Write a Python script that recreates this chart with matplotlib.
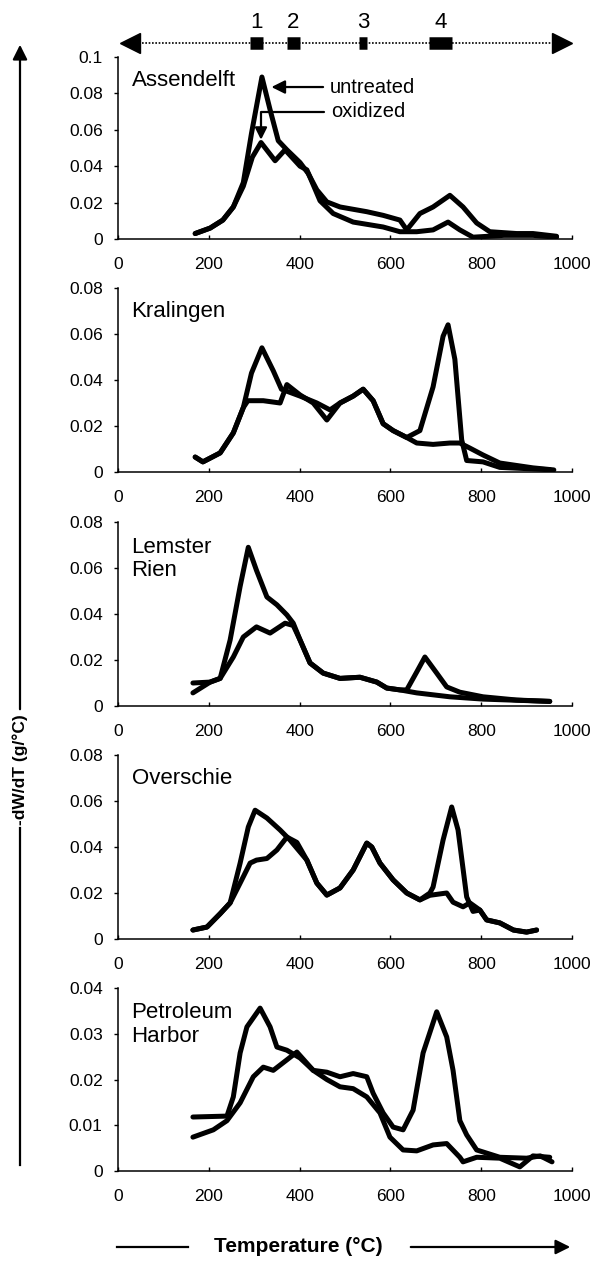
import matplotlib
matplotlib.use("Agg")
import matplotlib.pyplot as plt
from matplotlib.lines import Line2D
from matplotlib.patches import FancyArrowPatch

plt.rcParams['font.family'] = ['Liberation Sans', 'DejaVu Sans']

# ---- data (temperature in C, -dW/dT in g/C) ----
names = ['Assendelft', 'Kralingen', 'Lemster\nRien', 'Overschie', 'Petroleum\nHarbor']

t_untr_1 = [170, 203, 231, 254, 276, 294, 317, 335, 353, 372, 401, 419, 438, 460, 489, 548, 584, 621, 636,
            665, 694, 731, 760, 790, 819, 878, 914, 966]
y_untr_1 = [0.003, 0.006, 0.0104, 0.0176, 0.031, 0.058, 0.089, 0.071, 0.054, 0.049, 0.042, 0.036, 0.027,
            0.0204, 0.0176, 0.015, 0.013, 0.0104, 0.005, 0.014, 0.0176, 0.024, 0.0176, 0.0088, 0.004, 0.003,
            0.003, 0.0015]
t_oxid_1 = [170, 203, 231, 254, 276, 296, 315, 346, 368, 401, 416, 445, 474, 518, 584, 621, 658, 694, 727,
            753, 782, 850, 914, 966]
y_oxid_1 = [0.003, 0.006, 0.0104, 0.0176, 0.029, 0.045, 0.053, 0.043, 0.049, 0.040, 0.038, 0.021, 0.014,
            0.0093, 0.0066, 0.004, 0.004, 0.005, 0.0093, 0.005, 0.001, 0.002, 0.002, 0.001]

t_untr_2 = [170, 187, 225, 254, 276, 294, 317, 342, 360, 401, 438, 467, 489, 518, 540, 562, 584, 606, 636,
            665, 694, 716, 727, 742, 757, 768, 804, 841, 951]
y_untr_2 = [0.0065, 0.0044, 0.0083, 0.017, 0.028, 0.043, 0.054, 0.044, 0.036, 0.033, 0.030, 0.027, 0.030,
            0.033, 0.036, 0.031, 0.021, 0.018, 0.015, 0.018, 0.037, 0.059, 0.064, 0.049, 0.014, 0.005,
            0.0044, 0.002, 0.001]
t_oxid_2 = [170, 187, 225, 254, 276, 286, 320, 357, 372, 401, 430, 460, 489, 518, 540, 562, 584, 606, 636,
            658, 694, 731, 753, 775, 804, 841, 914, 960]
y_oxid_2 = [0.0065, 0.0044, 0.0083, 0.017, 0.028, 0.031, 0.031, 0.030, 0.038, 0.0335, 0.030, 0.0226, 0.030,
            0.033, 0.036, 0.031, 0.021, 0.018, 0.015, 0.0126, 0.012, 0.0126, 0.0126, 0.0104, 0.0074, 0.0039,
            0.0018, 0.0009]

t_untr_3 = [165, 203, 225, 247, 269, 287, 305, 328, 350, 372, 386, 401, 423, 452, 489, 533, 570, 592, 621,
            636, 658, 676, 702, 724, 753, 804, 878, 951]
y_untr_3 = [0.0057, 0.0104, 0.012, 0.0287, 0.052, 0.069, 0.059, 0.0474, 0.044, 0.0396, 0.036, 0.0287,
            0.0187, 0.0143, 0.012, 0.0125, 0.0104, 0.0078, 0.007, 0.007, 0.0148, 0.0213, 0.0143, 0.0083,
            0.006, 0.004, 0.0026, 0.002]
t_oxid_3 = [165, 203, 225, 254, 276, 305, 335, 368, 386, 401, 423, 452, 489, 533, 570, 592, 621, 658, 731,
            804, 951]
y_oxid_3 = [0.010, 0.0104, 0.012, 0.0213, 0.030, 0.0344, 0.0317, 0.036, 0.035, 0.0287, 0.0187, 0.0143,
            0.012, 0.0125, 0.0104, 0.0078, 0.007, 0.0057, 0.004, 0.003, 0.002]

t_untr_4 = [165, 196, 225, 247, 269, 287, 302, 328, 357, 379, 416, 438, 460, 489, 518, 548, 559, 577, 606,
            636, 665, 687, 694, 716, 735, 749, 768, 782, 797, 812, 841, 871, 900, 922]
y_untr_4 = [0.0039, 0.0052, 0.011, 0.0157, 0.033, 0.0487, 0.056, 0.0526, 0.0474, 0.043, 0.0343, 0.0243,
            0.0191, 0.0222, 0.030, 0.0417, 0.040, 0.033, 0.0257, 0.020, 0.017, 0.020, 0.0226, 0.043, 0.0574,
            0.0474, 0.0183, 0.012, 0.0126, 0.0083, 0.007, 0.0039, 0.003, 0.0039]
t_oxid_4 = [165, 196, 225, 247, 269, 291, 305, 328, 350, 372, 394, 416, 438, 460, 489, 518, 548, 559, 577,
            606, 636, 665, 687, 724, 738, 760, 775, 797, 812, 841, 871, 900, 922]
y_oxid_4 = [0.0039, 0.0052, 0.011, 0.0157, 0.0243, 0.033, 0.0343, 0.035, 0.0387, 0.0443, 0.042, 0.0343,
            0.0243, 0.0191, 0.0222, 0.030, 0.0417, 0.040, 0.033, 0.0257, 0.020, 0.017, 0.019, 0.020, 0.016,
            0.014, 0.0157, 0.0126, 0.0083, 0.007, 0.0039, 0.003, 0.0039]

t_untr_5 = [165, 240, 254, 269, 284, 313, 335, 350, 372, 401, 430, 460, 489, 518, 548, 562, 584, 606, 628,
            650, 672, 702, 724, 738, 753, 768, 790, 841, 900, 930, 956]
y_untr_5 = [0.0118, 0.012, 0.0162, 0.0258, 0.0315, 0.0356, 0.0315, 0.0271, 0.0264, 0.0247, 0.022, 0.0216,
            0.0206, 0.0213, 0.0206, 0.017, 0.0127, 0.0096, 0.009, 0.0133, 0.0258, 0.0348, 0.0293, 0.022,
            0.011, 0.0079, 0.0046, 0.003, 0.0028, 0.0033, 0.002]
t_oxid_5 = [165, 210, 240, 269, 298, 320, 342, 372, 394, 430, 460, 489, 518, 548, 577, 599, 628, 658, 694,
            724, 753, 760, 790, 841, 885, 914, 951]
y_oxid_5 = [0.0074, 0.009, 0.011, 0.0149, 0.0206, 0.0227, 0.022, 0.0243, 0.026, 0.022, 0.020, 0.0184,
            0.018, 0.0162, 0.0127, 0.0074, 0.0046, 0.0044, 0.0057, 0.006, 0.003, 0.002, 0.003, 0.0028,
            0.0009, 0.0033, 0.003]

untreated = [(t_untr_1, y_untr_1), (t_untr_2, y_untr_2), (t_untr_3, y_untr_3),
             (t_untr_4, y_untr_4), (t_untr_5, y_untr_5)]
oxidized = [(t_oxid_1, y_oxid_1), (t_oxid_2, y_oxid_2), (t_oxid_3, y_oxid_3),
            (t_oxid_4, y_oxid_4), (t_oxid_5, y_oxid_5)]

y_max = [0.1, 0.08, 0.08, 0.08, 0.04]
y_ticks = [[0, 0.02, 0.04, 0.06, 0.08, 0.1],
           [0, 0.02, 0.04, 0.06, 0.08],
           [0, 0.02, 0.04, 0.06, 0.08],
           [0, 0.02, 0.04, 0.06, 0.08],
           [0, 0.01, 0.02, 0.03, 0.04]]
y_ticklabels = [['0', '0.02', '0.04', '0.06', '0.08', '0.1'],
                ['0', '0.02', '0.04', '0.06', '0.08'],
                ['0', '0.02', '0.04', '0.06', '0.08'],
                ['0', '0.02', '0.04', '0.06', '0.08'],
                ['0', '0.01', '0.02', '0.03', '0.04']]
x_ticks = [0, 200, 400, 600, 800, 1000]

# temperature regions marked above the first panel
stage_labels = ['1', '2', '3', '4']
stage_start = [291, 372, 531, 685]
stage_end = [320, 400, 549, 735]

# ---- layout in pixels (figure is 595 x 1262) ----
W, H = 595, 1262
left_px, right_px = 118, 572
panel_px = [(57, 239), (288, 472), (522, 706), (755, 939), (988, 1171)]


def fx(px):
    return px / W


def fy(py):
    return 1 - py / H


fig = plt.figure(figsize=(W / 100, H / 100), dpi=100)

axes = []
for i, (top, bot) in enumerate(panel_px):
    ax = fig.add_axes([fx(left_px), fy(bot), (right_px - left_px) / W, (bot - top) / H])
    tu, yu = untreated[i]
    to, yo = oxidized[i]
    ax.plot(to, yo, color='black', lw=3.6, solid_joinstyle='round', solid_capstyle='round')
    ax.plot(tu, yu, color='black', lw=3.6, solid_joinstyle='round', solid_capstyle='round')
    ax.set_xlim(0, 1000)
    ax.set_ylim(0, y_max[i])
    ax.set_xticks(x_ticks)
    ax.set_xticklabels([str(v) for v in x_ticks])
    ax.set_yticks(y_ticks[i])
    ax.set_yticklabels(y_ticklabels[i])
    for s in ['top', 'right']:
        ax.spines[s].set_visible(False)
    for s in ['left', 'bottom']:
        ax.spines[s].set_linewidth(1.1)
    ax.tick_params(axis='x', direction='in', length=3, width=1, pad=13, labelsize=12.5)
    ax.tick_params(axis='y', direction='out', length=3, width=1, pad=8, labelsize=12.5)
    ax.text(0.03, 0.87 if '\n' not in names[i] else 0.80, names[i], transform=ax.transAxes,
            fontsize=16, va='center', ha='left', linespacing=1.15)
    axes.append(ax)

# annotation arrows in the first panel
ax1 = axes[0]
ax1.annotate('untreated', xy=(338, 0.0835), xytext=(467, 0.0835), fontsize=14.5, va='center',
             arrowprops=dict(arrowstyle='-|>', color='black', lw=1.6, mutation_scale=20, shrinkA=3, shrinkB=0))
ax1.annotate('oxidized', xy=(315, 0.0545), xytext=(469, 0.0698), fontsize=14.5, va='center',
             arrowprops=dict(arrowstyle='-|>', color='black', lw=1.6, mutation_scale=18, shrinkA=3, shrinkB=0,
                             connectionstyle='angle,angleA=0,angleB=90,rad=0'))

# stage bar above the panels
axt = fig.add_axes([fx(left_px), fy(55), (right_px - left_px) / W, 50 / H])
axt.set_xlim(0, 1000)
axt.set_ylim(0, 1)
axt.axis('off')
axt.plot([30, 975], [0.24, 0.24], color='black', lw=1.2, ls=(0, (1, 1)))
axt.plot([27], [0.24], marker='<', color='black', ms=14, clip_on=False)
axt.plot([978], [0.24], marker='>', color='black', ms=14, clip_on=False)
for lab, a, b in zip(stage_labels, stage_start, stage_end):
    axt.plot([a, b], [0.24, 0.24], color='black', lw=9, solid_capstyle='butt')
    axt.text((a + b) / 2, 0.64, lab, ha='center', va='center', fontsize=16)

# y axis label with arrow
fig.text(fx(20), fy(770), '-dW/dT (g/°C)', rotation=90, ha='center', va='center',
         fontsize=12.5, fontweight='bold')
fig.add_artist(FancyArrowPatch((fx(20), fy(712)), (fx(20), fy(42)), transform=fig.transFigure,
                               arrowstyle='-|>', mutation_scale=22, color='black', lw=1.6))
fig.add_artist(Line2D([fx(20), fx(20)], [fy(828), fy(1165)], transform=fig.transFigure,
                      color='black', lw=1.6))

# x axis label with arrow
fig.text(fx(298), fy(1247), 'Temperature (°C)', ha='center', va='center',
         fontsize=15, fontweight='bold')
fig.add_artist(Line2D([fx(117), fx(188)], [fy(1247), fy(1247)], transform=fig.transFigure,
                      color='black', lw=1.6))
fig.add_artist(FancyArrowPatch((fx(408), fy(1247)), (fx(573), fy(1247)), transform=fig.transFigure,
                               arrowstyle='-|>', mutation_scale=22, color='black', lw=1.6))

fig.savefig('out.png', dpi=100)
